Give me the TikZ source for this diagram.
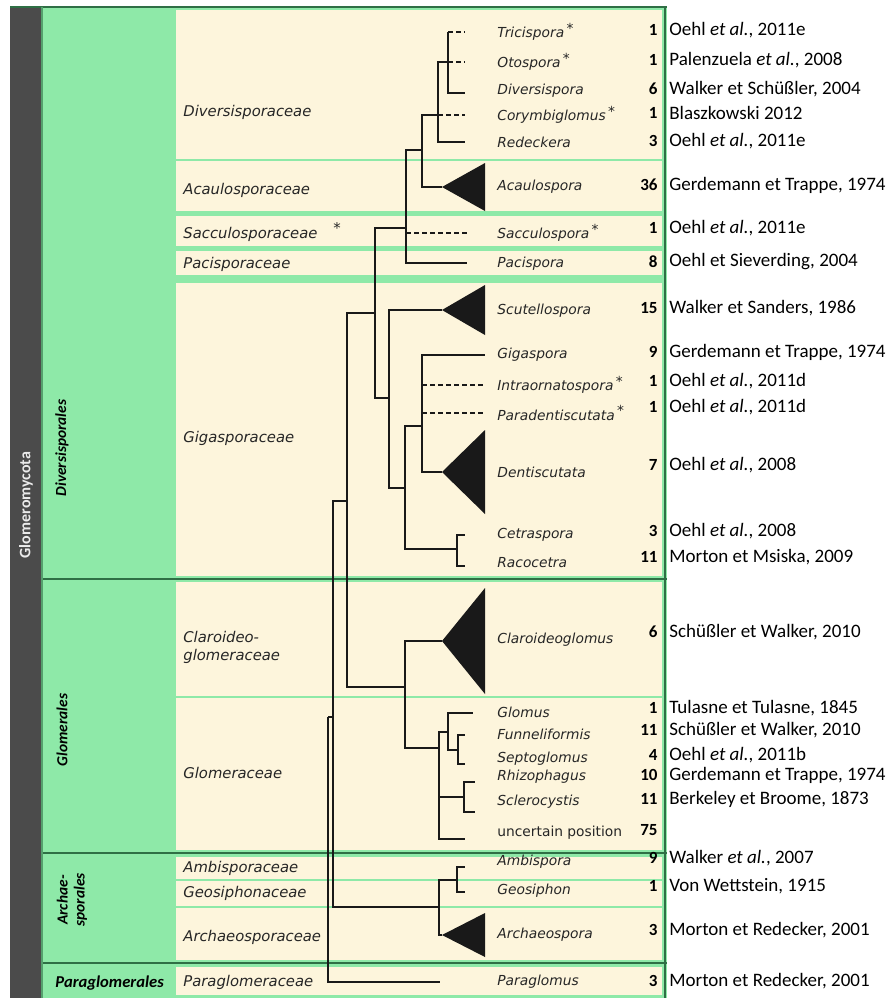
\documentclass[tikz,border=0pt]{standalone}
\usepackage{fontspec}
\setmainfont{Carlito}
\newfontfamily\treefont{DejaVu Sans}

\definecolor{barcol}{HTML}{4B4B4B}
\definecolor{ordcol}{HTML}{8EE9A8}
\definecolor{famcol}{HTML}{FDF5DC}
\definecolor{sepcol}{HTML}{2F6F45}

\newcommand\nstar{\,\raisebox{0.6ex}{\textup{*}}}

\begin{document}
\begin{tikzpicture}[x=0.5pt, y=-0.5pt,
    genus/.style={anchor=west, inner sep=0pt, text=black!85,
        font=\treefont\itshape\fontsize{6.9}{8}\selectfont},
    family/.style={anchor=west, inner sep=0pt, text=black!85, align=left,
        font=\treefont\itshape\fontsize{7.4}{9}\selectfont},
    count/.style={anchor=east, inner sep=0pt, font=\bfseries\fontsize{8.5}{10}\selectfont},
    source/.style={anchor=west, inner sep=0pt, font=\fontsize{9.5}{11}\selectfont},
    order/.style={inner sep=0pt, rotate=90, align=center,
        font=\bfseries\itshape\fontsize{7.7}{8.5}\selectfont},
    branch/.style={line width=0.8pt, black!90},
    newtaxon/.style={branch, dash pattern=on 2.5pt off 1.5pt},
    clade/.style={fill=black!90}
]
\useasboundingbox (0,0) rectangle (889,998);
\fill[white] (0,0) rectangle (889,998);

% columns and rows
\fill[barcol] (10,6) rectangle (42,998);
\fill[ordcol] (42,6) rectangle (667,998);
\foreach \ya/\yb in {10/159, 161/211, 216/246, 251/275, 283/576, 582/696,
    698/850, 857/879, 881/906, 908/960, 967/995}
  \fill[famcol] (176,\ya) rectangle (662,\yb);
\draw[sepcol, line width=1pt] (10,7) -- (667,7);
\foreach \y in {579,853,963}
  \draw[sepcol, line width=0.9pt] (42,\y) -- (667,\y);
\draw[sepcol, line width=0.6pt] (665,7) -- (665,998);
\draw[sepcol!60!ordcol, line width=1pt] (42,7) -- (42,998);

% phylum and orders
\node[order, text=white!92!black, font=\bfseries\fontsize{8}{9}\selectfont] (phylum) at (26,505) {Glomeromycota};
\node[order] (oDiv) at (62,448) {Diversisporales};
\node[order] (oGlo) at (62,730) {Glomerales};
\node[order] (oArc) at (72,900) {Archae-\\sporales};
\node[anchor=west, inner sep=0pt, font=\bfseries\itshape\fontsize{8.3}{9}\selectfont] (oPar) at (55,983) {Paraglomerales};

% families
\node[family] (fDiv) at (183,112) {Diversisporaceae};
\node[family] (fAca) at (183,190) {Acaulosporaceae};
\node[family] (fSac) at (183,232) {Sacculosporaceae\hspace{8pt}\raisebox{0.6ex}{\textup{*}}};
\node[family] (fPac) at (183,264) {Pacisporaceae};
\node[family] (fGig) at (183,438) {Gigasporaceae};
\node[family] (fCla) at (183,647) {Claroideo-\\glomeraceae};
\node[family] (fGlo) at (183,773) {Glomeraceae};
\node[family] (fAmb) at (183,868) {Ambisporaceae};
\node[family] (fGeo) at (183,893) {Geosiphonaceae};
\node[family] (fArc) at (183,937) {Archaeosporaceae};
\node[family] (fPar) at (183,982) {Paraglomeraceae};

% genera, species counts and authorities
\foreach \id/\y/\yc/\gen/\cnt/\src in {
    Tri/32/30/{Tricispora\nstar}/1/{Oehl \textit{et al.}, 2011e},
    Oto/62/60/{Otospora\nstar}/1/{Palenzuela \textit{et al.}, 2008},
    Div/91/89/{Diversispora}/6/{Walker et Schüßler, 2004},
    Cor/115/113/{Corymbiglomus\nstar}/1/{Blaszkowski 2012},
    Red/142/141/{Redeckera}/3/{Oehl \textit{et al.}, 2011e},
    Aca/187/185/{Acaulospora}/36/{Gerdemann et Trappe, 1974},
    Sac/233/228/{Sacculospora\nstar}/1/{Oehl \textit{et al.}, 2011e},
    Pac/264/262/{Pacispora}/8/{Oehl et Sieverding, 2004},
    Scu/311/308/{Scutellospora}/15/{Walker et Sanders, 1986},
    Gig/355/352/{Gigaspora}/9/{Gerdemann et Trappe, 1974},
    Int/385/381/{Intraornatospora\nstar}/1/{Oehl \textit{et al.}, 2011d},
    Par/413/407/{Paradentiscutata\nstar}/1/{Oehl \textit{et al.}, 2011d},
    Den/472/465/{Dentiscutata}/7/{Oehl \textit{et al.}, 2008},
    Cet/535/531/{Cetraspora}/3/{Oehl \textit{et al.}, 2008},
    Rac/563/557/{Racocetra}/11/{Morton et Msiska, 2009},
    Cla/640/632/{Claroideoglomus}/6/{Schüßler et Walker, 2010},
    Glo/712/708/{Glomus}/1/{Tulasne et Tulasne, 1845},
    Fun/734/730/{Funneliformis}/11/{Schüßler et Walker, 2010},
    Sep/759/755/{Septoglomus}/4/{Oehl \textit{et al.}, 2011b},
    Rhi/777/775/{Rhizophagus}/10/{Gerdemann et Trappe, 1974},
    Scl/802/799/{Sclerocystis}/11/{Berkeley et Broome, 1873},
    Amb/862/858/{Ambispora}/9/{Walker \textit{et al.}, 2007},
    Geo/891/886/{Geosiphon}/1/{Von Wettstein, 1915},
    Arc/935/930/{Archaeospora}/3/{Morton et Redecker, 2001},
    Pgl/982/981/{Paraglomus}/3/{Morton et Redecker, 2001}}
{
  \node[genus] (g\id) at (497,\y) {\gen};
  \node[count] (c\id) at (658,\yc) {\cnt};
  \node[source] (s\id) at (669,\yc) {\src};
}
\node[genus, font=\treefont\fontsize{6.9}{8}\selectfont] (gUnc) at (497,833) {uncertain position};
\node[count] (cUnc) at (658,830) {75};

% tips
\coordinate (tTri) at (465,32);
\coordinate (tOto) at (465,62);
\coordinate (tDiv) at (465,93);
\coordinate (tCor) at (465,115);
\coordinate (tRed) at (465,142);
\coordinate (tAca) at (442,187);
\coordinate (tSac) at (467,233);
\coordinate (tPac) at (467,263);
\coordinate (tScu) at (442,310);
\coordinate (tGig) at (485,355);
\coordinate (tInt) at (485,385);
\coordinate (tPar) at (485,413);
\coordinate (tDen) at (442,472);
\coordinate (tCet) at (465,535);
\coordinate (tRac) at (465,566);
\coordinate (tCla) at (442,641);
\coordinate (tGlo) at (473,713);
\coordinate (tFun) at (465,735);
\coordinate (tSep) at (465,764);
\coordinate (tRhi) at (475,782);
\coordinate (tScl) at (475,812);
\coordinate (tUnc) at (465,839);
\coordinate (tAmb) at (465,867);
\coordinate (tGeo) at (465,892);
\coordinate (tArc) at (442,935);
\coordinate (tPgl) at (440,982);

% inner nodes
\coordinate (nTri) at (448,62);
\coordinate (nDvs) at (438,115);
\coordinate (nDA) at (422,150);
\coordinate (nDip) at (406,228);
\coordinate (nDvl) at (375,313);
\coordinate (nGig) at (389,398);
\coordinate (nGig2) at (405,488);
\coordinate (nDen) at (422,426);
\coordinate (nRac) at (457,549);
\coordinate (nGD) at (347,501);
\coordinate (nGlm) at (405,687);
\coordinate (nGlc) at (439,748);
\coordinate (nGls) at (448,732);
\coordinate (nFun) at (458,750);
\coordinate (nRhi) at (464,797);
\coordinate (nGDA) at (333,717);
\coordinate (nArc) at (439,907);
\coordinate (nAmb) at (457,880);
\coordinate (nRoot) at (328,717);

% collapsed clades
\fill[clade] (tAca) -- ++(43,-24) -- ++(0,48) -- cycle;
\fill[clade] (tScu) -- ++(43,-25) -- ++(0,50) -- cycle;
\fill[clade] (tDen) -- ++(43,-42) -- ++(0,84) -- cycle;
\fill[clade] (tCla) -- ++(43,-53) -- ++(0,106) -- cycle;
\fill[clade] (tArc) -- ++(43,-22) -- ++(0,44) -- cycle;

% branches
\draw[branch] (nTri) -- (nTri |- tTri) (nTri) |- (tDiv);
\draw[newtaxon] (nTri |- tTri) -- (tTri) (nTri) -- (tOto);
\draw[branch] (nDvs) |- (nTri) (nDvs) |- (tRed);
\draw[newtaxon] (nDvs) -- (tCor);
\draw[branch] (nDA) |- (nDvs) (nDA) |- (tAca);
\draw[branch] (nDip) |- (nDA) (nDip) |- (tPac);
\draw[newtaxon] (nDip |- tSac) -- (tSac);
\draw[branch] (nDvl) |- (nDip) (nDvl) |- (nGig);
\draw[branch] (nGig) |- (tScu) (nGig) |- (nGig2);
\draw[branch] (nGig2) |- (nDen) (nGig2) |- (nRac);
\draw[branch] (nDen) |- (tGig) (nDen) |- (tDen);
\draw[newtaxon] (nDen |- tInt) -- (tInt) (nDen |- tPar) -- (tPar);
\draw[branch] (nRac) |- (tCet) (nRac) |- (tRac);
\draw[branch] (nGD) |- (nDvl) (nGD) |- (nGlm);
\draw[branch] (nGlm) |- (tCla) (nGlm) |- (nGlc);
\draw[branch] (nGlc) |- (nGls) (nGlc) |- (nRhi) (nGlc) |- (tUnc);
\draw[branch] (nGls) |- (tGlo) (nGls) |- (nFun);
\draw[branch] (nFun) |- (tFun) (nFun) |- (tSep);
\draw[branch] (nRhi) |- (tRhi) (nRhi) |- (tScl);
\draw[branch] (nGDA) |- (nGD) (nGDA) |- (nArc);
\draw[branch] (nArc) |- (nAmb) (nArc) |- (tArc);
\draw[branch] (nAmb) |- (tAmb) (nAmb) |- (tGeo);
\draw[branch] (nRoot) -- (nGDA) (nRoot) |- (tPgl);
\end{tikzpicture}
\end{document}
